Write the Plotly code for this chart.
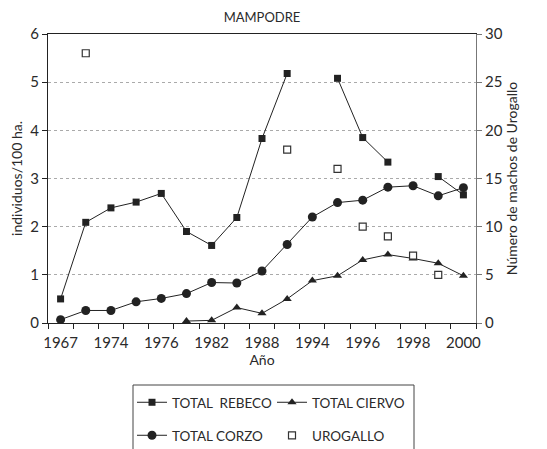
import plotly.graph_objects as go

# ---- data (categories are equally spaced positions on an Excel-style category axis) ----
categories = ["1967", "", "1974", "", "1976", "", "1982", "", "1988", "",
              "1994", "", "1996", "", "1998", "", "2000"]
rebeco = [0.50, 2.09, 2.39, 2.51, 2.69, 1.90, 1.61, 2.19, 3.83, 5.18,
          None, 5.08, 3.85, 3.34, None, 3.04, 2.66]
ciervo = [None, None, None, None, None, 0.04, 0.055, 0.32, 0.20, 0.50,
          0.88, 0.98, 1.31, 1.42, 1.34, 1.24, 0.98]
corzo = [0.07, 0.26, 0.26, 0.44, 0.51, 0.61, 0.84, 0.83, 1.08, 1.63,
         2.20, 2.50, 2.55, 2.82, 2.85, 2.64, 2.81]
urogallo = [None, 28, None, None, None, None, None, None, None, 18,
            None, 16, 10, 9, 7, 5, None]

pos = list(range(len(categories)))
tick_pos = [p for p, c in zip(pos, categories) if c]
tick_txt = [c for c in categories if c]
bounds = [p - 0.5 for p in pos] + [pos[-1] + 0.5]

FONT = "Lato"
INK = "#222222"
TXT = "#2a2a2a"

fig = go.Figure()
fig.add_trace(go.Scatter(x=pos, y=rebeco, name="TOTAL  REBECO", mode="lines+markers",
                         line=dict(color=INK, width=1),
                         marker=dict(symbol="square", size=7, color=INK),
                         legend="legend"))
fig.add_trace(go.Scatter(x=pos, y=ciervo, name="TOTAL CIERVO", mode="lines+markers",
                         line=dict(color=INK, width=1),
                         marker=dict(symbol="triangle-up", size=8, color=INK),
                         legend="legend"))
fig.add_trace(go.Scatter(x=pos, y=corzo, name="TOTAL CORZO", mode="lines+markers",
                         line=dict(color=INK, width=1),
                         marker=dict(symbol="circle", size=9, color=INK),
                         legend="legend2"))
fig.add_trace(go.Scatter(x=pos, y=urogallo, name="UROGALLO", mode="markers",
                         marker=dict(symbol="square", size=7, color="white",
                                     line=dict(color="#333333", width=1.2)),
                         yaxis="y2", legend="legend2"))

# page body has an 8px margin, so the figure is drawn 8px in from the window corner
OFF = 8
W, H = 547 - OFF, 449 - OFF
PL, PR, PT, PB = 48, 476, 34, 323          # plot area in window pixels
L, R, T, B = PL - OFF, W - (PR - OFF), PT - OFF, H - (PB - OFF)
pw, ph = PR - PL, PB - PT

def px_x(px):
    return (px - PL) / pw

def px_y(py):
    return (PB - py) / ph

fig.update_layout(
    width=W, height=H,
    margin=dict(l=L, r=R, t=T, b=B, autoexpand=False),
    paper_bgcolor="white", plot_bgcolor="white",
    font=dict(family=FONT, size=14, color=TXT),
    title=dict(text="MAMPODRE", x=px_x(262), xref="paper", xanchor="center",
               y=1 - (17 - OFF) / H, yanchor="middle", font=dict(size=13, color=TXT)),
    showlegend=True,
    xaxis=dict(range=[-0.5, len(categories) - 0.5], tickmode="array",
               tickvals=tick_pos, ticktext=tick_txt, ticks="", showgrid=False,
               zeroline=False, showline=True, linecolor=INK, linewidth=1, mirror=True,
               tickfont=dict(size=15), ticklabelstandoff=6,
               minor=dict(tickmode="array", tickvals=bounds, ticks="outside",
                          ticklen=5, tickcolor=INK, showgrid=False),
               title=dict(text="Año", font=dict(size=14), standoff=5)),
    yaxis=dict(range=[0, 6], tickmode="linear", tick0=0, dtick=1,
               ticks="outside", ticklen=5, tickcolor=INK,
               showline=True, linecolor=INK, linewidth=1,
               showgrid=True, gridcolor="#aaaaaa", griddash="dot", gridwidth=1,
               zeroline=False, tickfont=dict(size=15),
               title=dict(text="individuos/100 ha.", font=dict(size=14), standoff=8)),
    yaxis2=dict(range=[0, 30], tickmode="linear", tick0=0, dtick=5,
                overlaying="y", side="right", ticks="outside", ticklen=5,
                tickcolor="#777777", showline=True, linecolor="#777777", linewidth=1,
                showgrid=False, zeroline=False, tickfont=dict(size=15),
                title=dict(text="Número de machos de Urogallo", font=dict(size=14), standoff=4)),
    legend=dict(orientation="h", x=px_x(132), xanchor="left", y=px_y(387), yanchor="top",
                entrywidth=95, entrywidthmode="pixels", bgcolor="rgba(0,0,0,0)",
                font=dict(size=13.5), itemclick=False),
    legend2=dict(orientation="h", x=px_x(132), xanchor="left", y=px_y(420), yanchor="top",
                 entrywidth=95, entrywidthmode="pixels", bgcolor="rgba(0,0,0,0)",
                 font=dict(size=13.5), itemclick=False),
    shapes=[dict(type="rect", xref="paper", yref="paper",
                 x0=px_x(133), x1=px_x(414), y0=px_y(385), y1=px_y(452),
                 line=dict(color="#444444", width=1), fillcolor="rgba(0,0,0,0)")],
    hovermode=False,
)

fig.write_html("out.html")
